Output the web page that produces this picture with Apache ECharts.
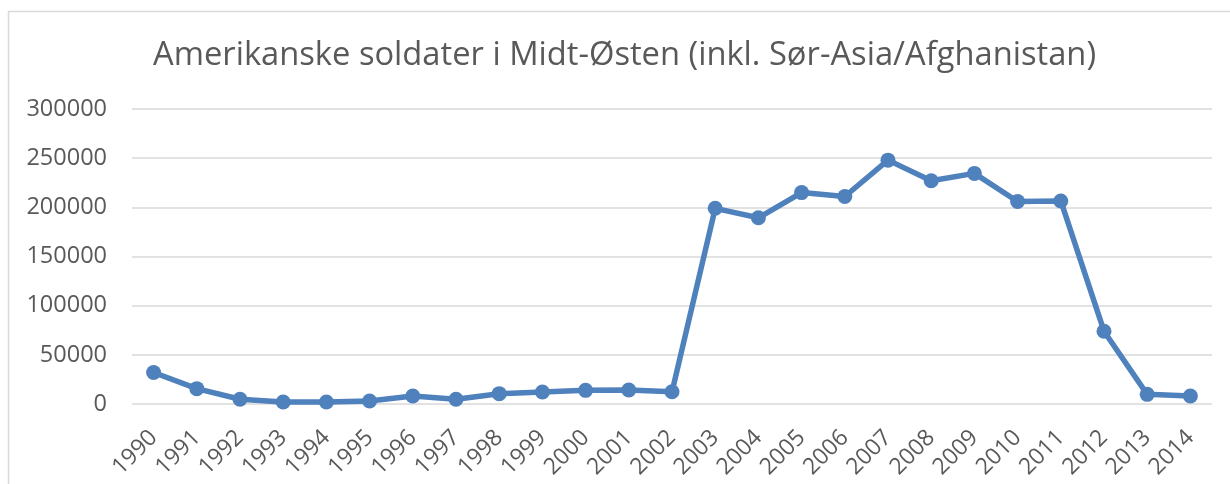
<!DOCTYPE html>
<html>
<head>
<meta charset="utf-8">
<title>Amerikanske soldater i Midt-Østen</title>
<script src="https://cdn.jsdelivr.net/npm/echarts@6/dist/echarts.min.js"></script>
<style>
  html, body { margin: 0; padding: 0; background: #fff; }
  #chart { width: 1230px; height: 484px; }
</style>
</head>
<body>
<div id="chart"></div>
<script>
// år (kategorier)
const years = ['1990', '1991', '1992', '1993', '1994', '1995', '1996', '1997', '1998', '1999',
  '2000', '2001', '2002', '2003', '2004', '2005', '2006', '2007', '2008', '2009',
  '2010', '2011', '2012', '2013', '2014'];
// antall soldater
const soldiers = [32000, 15600, 4800, 2000, 2000, 3000, 8100, 4800, 10500, 12200,
  13900, 14200, 12400, 199000, 189400, 215000, 211000, 248000, 227000, 234500,
  206000, 206500, 74000, 9800, 8100];
// y-akse
const yMin = 0;
const yMax = 300000;
const yStep = 50000;

const chart = echarts.init(document.getElementById('chart'));

const option = {
  animation: false,
  textStyle: { fontFamily: 'Open Sans' },
  title: {
    text: 'Amerikanske soldater i Midt-Østen (inkl. Sør-Asia/Afghanistan)',
    left: 153,
    top: 39,
    padding: 0,
    textStyle: {
      fontFamily: 'Open Sans',
      fontSize: 32.7,
      fontWeight: 'normal',
      color: '#595959',
    },
  },
  // ramme rundt diagrammet
  graphic: [
    {
      type: 'rect',
      shape: { x: 8.5, y: 11.5, width: 1400, height: 600 },
      style: { fill: 'none', stroke: '#d9d9d9', lineWidth: 1.5 },
      silent: true,
      z: -1,
    },
  ],
  grid: {
    left: 132,
    right: 18,
    top: 109,
    bottom: 80,
  },
  xAxis: {
    type: 'category',
    data: years,
    boundaryGap: true,
    axisLine: { show: false },
    axisTick: { show: false },
    axisLabel: {
      interval: 0,
      rotate: 45,
      margin: 30,
      fontSize: 23,
      color: '#595959',
      fontFamily: 'Open Sans',
    },
  },
  yAxis: {
    type: 'value',
    min: yMin,
    max: yMax,
    interval: yStep,
    axisLine: { show: false },
    axisTick: { show: false },
    axisLabel: {
      margin: 25,
      fontSize: 23.5,
      color: '#595959',
      fontFamily: 'Open Sans',
      formatter: (v) => String(v),
    },
    splitLine: {
      lineStyle: { color: '#d9d9d9', width: 1.5 },
    },
  },
  series: [
    {
      type: 'line',
      data: soldiers,
      symbol: 'circle',
      symbolSize: 15,
      lineStyle: { color: '#4f81bd', width: 5.5 },
      itemStyle: { color: '#4f81bd' },
    },
  ],
};

chart.setOption(option);
</script>
</body>
</html>
